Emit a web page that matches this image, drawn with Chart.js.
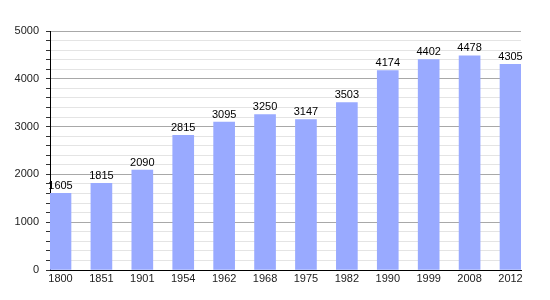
<!DOCTYPE html>
<html>
<head>
<meta charset="utf-8">
<script src="https://cdn.jsdelivr.net/npm/chart.js@4"></script>
<style>
  html, body { margin: 0; padding: 0; background: #fff; }
  #wrap { width: 550px; height: 300px; }
</style>
</head>
<body>
<div id="wrap"><canvas id="bar-chart"></canvas></div>
<script>
  // population by census year
  var years = ["1800", "1851", "1901", "1954", "1962", "1968", "1975", "1982", "1990", "1999", "2008", "2012"];
  var population = [1605, 1815, 2090, 2815, 3095, 3250, 3147, 3503, 4174, 4402, 4478, 4305];
  var yTicks = [0, 1000, 2000, 3000, 4000, 5000];

  Chart.defaults.font.family = "'Liberation Sans', Arial, sans-serif";
  Chart.defaults.font.size = 11;
  Chart.defaults.color = '#222';

  // draw the value above every bar
  var valueLabels = {
    id: 'valueLabels',
    afterDatasetsDraw: function(chart) {
      var ctx = chart.ctx;
      var meta = chart.getDatasetMeta(0);
      ctx.save();
      ctx.fillStyle = '#000';
      ctx.font = "11px 'Liberation Sans', Arial, sans-serif";
      ctx.textAlign = 'center';
      ctx.textBaseline = 'bottom';
      meta.data.forEach(function(bar, i) {
        ctx.fillText(population[i], bar.x, bar.y - 2);
      });
      ctx.restore();
    }
  };

  new Chart(document.getElementById("bar-chart"), {
    type: 'bar',
    data: {
      datasets: [{
        label: "Population",
        backgroundColor: "#99aaff",
        barThickness: 21,
        data: population.map(function(v, i) { return { x: i, y: v }; })
      }]
    },
    options: {
      responsive: true,
      maintainAspectRatio: false,
      animation: false,
      layout: { padding: { left: 0, right: 29, top: 31, bottom: 0 } },
      plugins: {
        legend: { display: false },
        tooltip: { enabled: false }
      },
      scales: {
        x: {
          type: 'linear',
          offset: false,
          min: -0.2567,
          max: 11.2567,
          afterBuildTicks: function(scale) {
            scale.ticks = years.map(function(y, i) { return { value: i }; });
          },
          afterFit: function(scale) { scale.height = 30; },
          ticks: {
            autoSkip: false,
            maxRotation: 0,
            padding: 2,
            callback: function(value) { return years[value]; }
          },
          grid: { display: false, drawTicks: false },
          border: { display: true, color: '#000', width: 1 }
        },
        y: {
          min: 0,
          max: 5000,
          afterFit: function(scale) { scale.width = 50; },
          ticks: {
            stepSize: 200,
            autoSkip: false,
            padding: 7,
            callback: function(value) { return yTicks.indexOf(value) >= 0 ? value : ''; }
          },
          grid: {
            tickLength: 4,
            tickColor: '#333',
            color: function(c) {
              return yTicks.indexOf(c.tick.value) >= 0 ? '#a8a8a8' : '#e4e4e4';
            }
          },
          border: { display: true, color: '#000', width: 1 }
        }
      }
    },
    plugins: [valueLabels]
  });
</script>
</body>
</html>
